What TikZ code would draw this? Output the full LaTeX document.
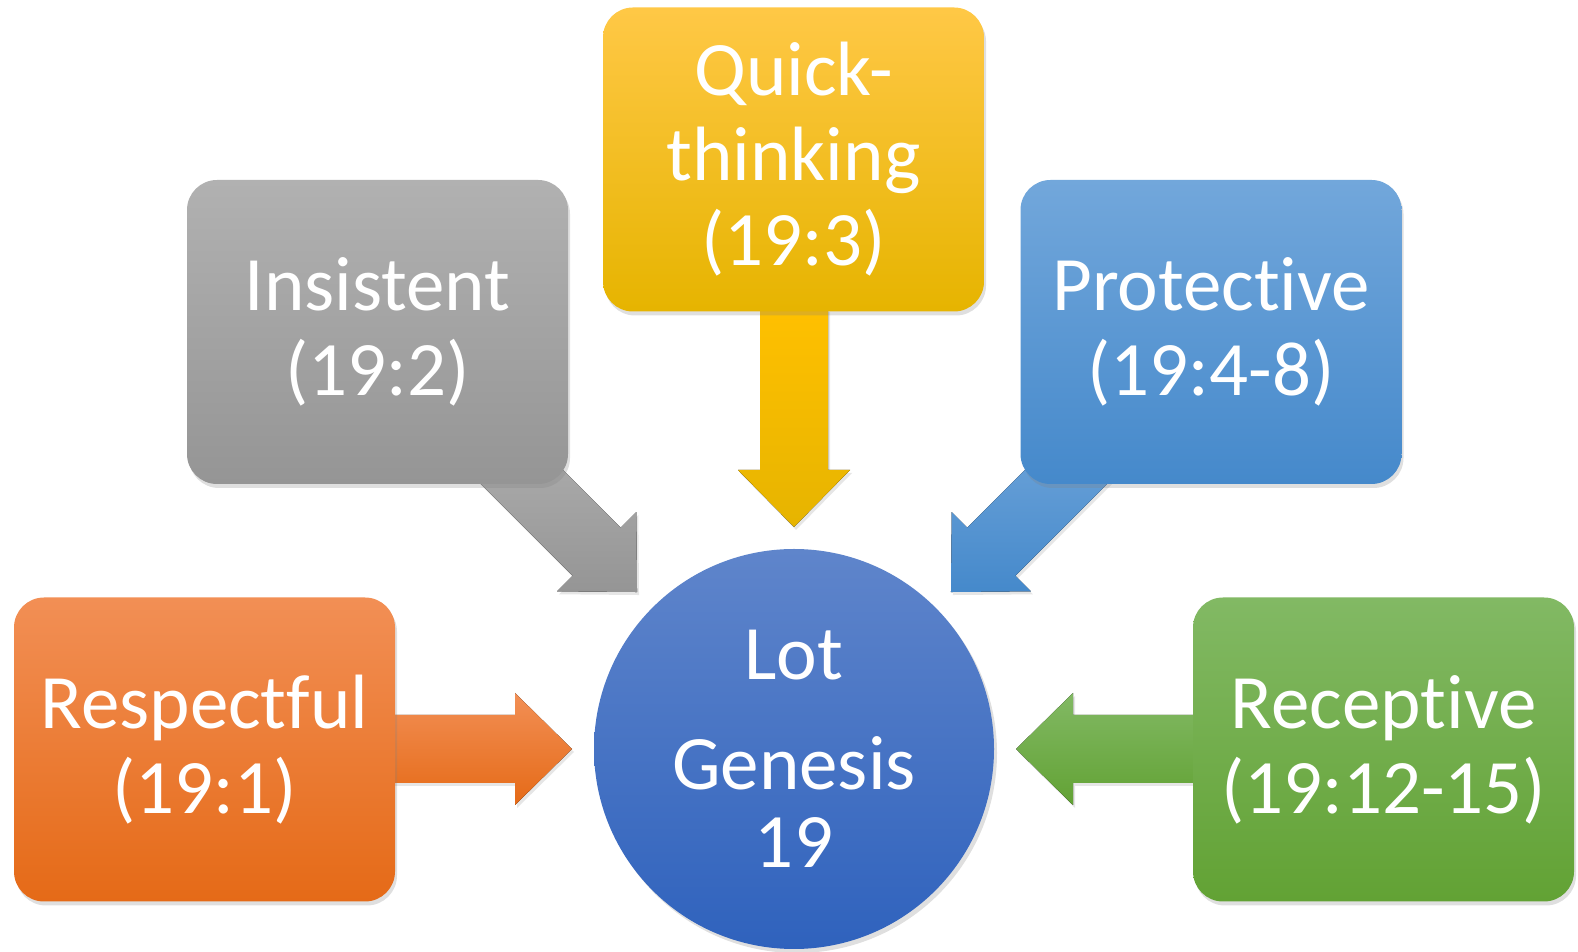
\documentclass[tikz,border=0pt]{standalone}
\usepackage{fontspec}
\setmainfont[Ligatures=NoCommon]{Carlito}
\usepackage{tikz}
\usetikzlibrary{shadows}
\usetikzlibrary{calc}
\definecolor{orangeT}{HTML}{F28F55}
\definecolor{orangeB}{HTML}{E56A17}
\definecolor{grayT}{HTML}{B1B1B1}
\definecolor{grayB}{HTML}{959595}
\definecolor{yellowT}{HTML}{FFC846}
\definecolor{yellowM}{HTML}{FFC000}
\definecolor{yellowB}{HTML}{E6B400}
\definecolor{blueT}{HTML}{72A7DB}
\definecolor{blueB}{HTML}{4589CB}
\definecolor{greenT}{HTML}{82B964}
\definecolor{greenB}{HTML}{62A234}
\definecolor{lotT}{HTML}{5F85CB}
\definecolor{lotB}{HTML}{2F62BD}
\pgfdeclarelayer{background}
\pgfsetlayers{background,main}
\tikzstyle{trait}=[rectangle,rounded corners=15pt,minimum width=190.5pt,minimum height=152pt,inner sep=0pt,align=center,text=white,font=\fontsize{38.5}{42.5}\selectfont,drop shadow={shadow xshift=1pt,shadow yshift=-2pt,opacity=0.25}]
\tikzstyle{hub}=[circle,minimum size=200pt,inner sep=0pt,align=center,text=white,font=\fontsize{38.5}{39}\selectfont,top color=lotT,bottom color=lotB,drop shadow={shadow xshift=1.5pt,shadow yshift=-2pt,opacity=0.25}]
\tikzstyle{fatarrow}=[draw=none,drop shadow={shadow xshift=1pt,shadow yshift=-1.5pt,opacity=0.2}]

\begin{document}
\begin{tikzpicture}[x=0.5pt,y=0.5pt]
    \useasboundingbox (0,0) rectangle (1578,952);

    \node[hub] (lot) at (794,203) {Lot\\[16pt]Genesis\\19};

    \node[trait, top color=yellowT, middle color=yellowM, bottom color=yellowB] (quick) at (793.5,792.5) {Quick-\\thinking\\(19:3)};
    \node[trait, top color=grayT, bottom color=grayB] (insist) at (377.5,620) {Insistent\\(19:2)};
    \node[trait, top color=blueT, bottom color=blueB] (protect) at (1211,620) {Protective\\(19:4-8)};
    \node[trait, top color=orangeT, bottom color=orangeB] (respect) at (204.5,202.5) {Respectful\\(19:1)};
    \node[trait, top color=greenT, bottom color=greenB] (recept) at (1383.5,202.5) {Receptive\\(19:12-15)};

    % block arrows, drawn under the boxes
    \begin{pgfonlayer}{background}
    \foreach \ang/\len/\tc/\bc in {90/440/yellowM/yellowB, 135/440/grayT/grayB, 45/440/blueT/blueB, 180/410/orangeT/orangeB, 0/410/greenT/greenB}
        \fill[fatarrow, top color=\tc, bottom color=\bc]
            ($(lot.center)+(\ang:\len)+(\ang+90:34)$) --
            ($(lot.center)+(\ang:279)+(\ang+90:34)$) --
            ($(lot.center)+(\ang:279)+(\ang+90:56)$) --
            ($(lot.center)+(\ang:222)$) --
            ($(lot.center)+(\ang:279)+(\ang-90:56)$) --
            ($(lot.center)+(\ang:279)+(\ang-90:34)$) --
            ($(lot.center)+(\ang:\len)+(\ang-90:34)$) -- cycle;
    \end{pgfonlayer}

\end{tikzpicture}
\end{document}
